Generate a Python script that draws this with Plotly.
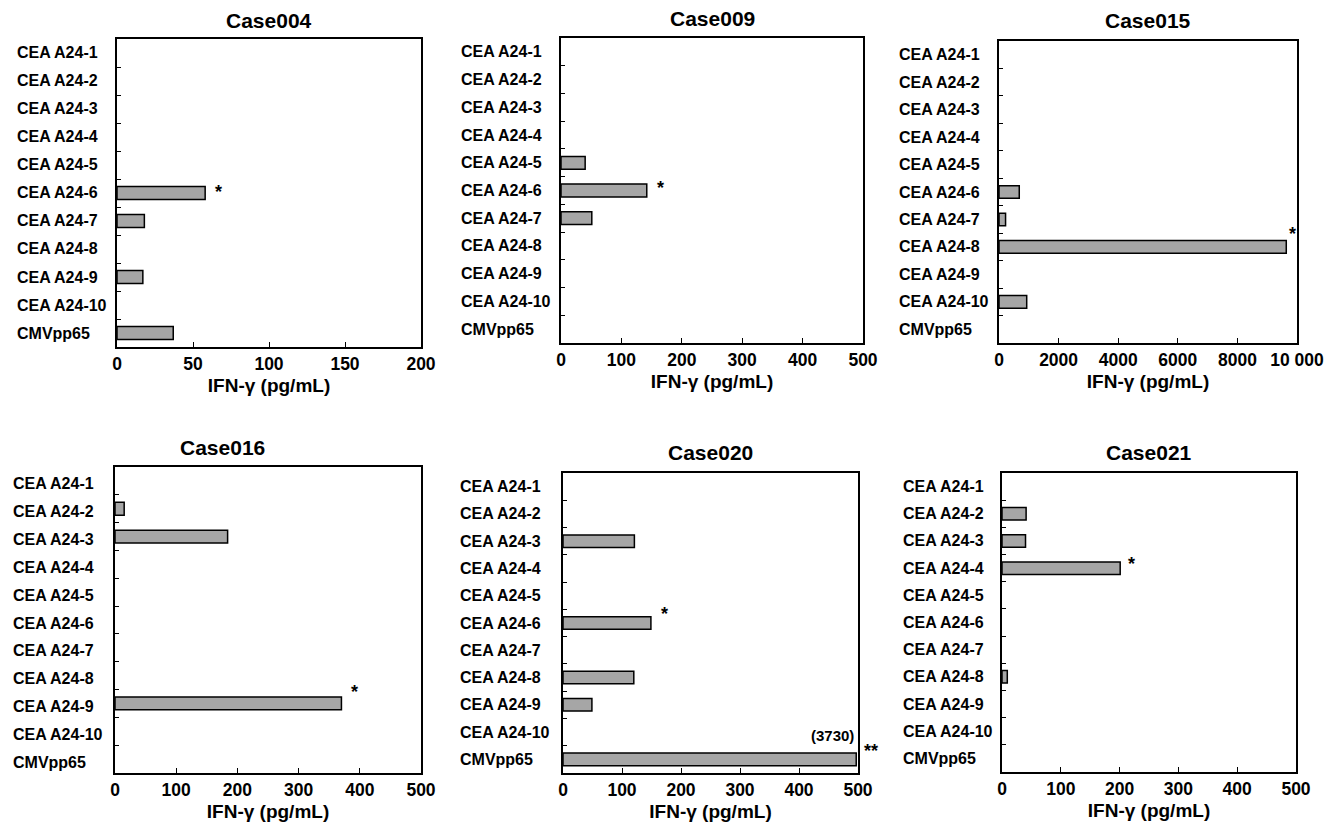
import plotly.graph_objects as go

# ---------------- data ----------------
categories = ["CEA A24-1", "CEA A24-2", "CEA A24-3", "CEA A24-4", "CEA A24-5",
              "CEA A24-6", "CEA A24-7", "CEA A24-8", "CEA A24-9", "CEA A24-10", "CMVpp65"]

case_names = ["Case004", "Case009", "Case015", "Case016", "Case020", "Case021"]

case004 = [0, 0, 0, 0, 0, 58, 18, 0, 17, 0, 37]
case009 = [0, 0, 0, 0, 40, 142, 51, 0, 0, 0, 0]
case015 = [0, 0, 0, 0, 0, 680, 220, 9640, 0, 930, 0]
case016 = [0, 15, 184, 0, 0, 0, 0, 0, 370, 0, 0]
case020 = [0, 0, 121, 0, 0, 149, 0, 120, 49, 0, 3730]
case021 = [0, 41, 40, 201, 0, 0, 0, 9, 0, 0, 0]

x_max = [200, 500, 10000, 500, 500, 500]
x_tickvals = [[0, 50, 100, 150, 200],
              [0, 100, 200, 300, 400, 500],
              [0, 2000, 4000, 6000, 8000, 10000],
              [0, 100, 200, 300, 400, 500],
              [0, 100, 200, 300, 400, 500],
              [0, 100, 200, 300, 400, 500]]
x_ticktext = [["0", "50", "100", "150", "200"],
              ["0", "100", "200", "300", "400", "500"],
              ["0", "2000", "4000", "6000", "8000", "10 000"],
              ["0", "100", "200", "300", "400", "500"],
              ["0", "100", "200", "300", "400", "500"],
              ["0", "100", "200", "300", "400", "500"]]

significance = {
    "Case004": {"CEA A24-6": "*"},
    "Case009": {"CEA A24-6": "*"},
    "Case015": {"CEA A24-8": "*"},
    "Case016": {"CEA A24-9": "*"},
    "Case020": {"CEA A24-6": "*", "CMVpp65": "**"},
    "Case021": {"CEA A24-4": "*"},
}
x_label = "IFN-γ (pg/mL)"

# ---------------- style / layout ----------------
W, H = 1340, 825
# plot frames in pixels: (left, right, top, bottom)
frames = [(117, 421, 39, 347), (561, 863, 38, 343), (999, 1297, 41, 343),
          (115, 421, 467, 773), (563, 858, 473, 773), (1002, 1296, 473, 772)]
label_left = [15, 459, 897, 11, 458, 901]
title_y = [20, 18, 20, 447, 452, 452]
title_dx = [0, 0, 0, -46, 0, 0]
label_dy = [0, 0, 0, -3, 0, 0]
# per-annotation offsets for significance marks (xshift, yshift)
sig_shift = {
    ("Case004", "CEA A24-6"): (8, 1),
    ("Case009", "CEA A24-6"): (8, 2),
    ("Case015", "CEA A24-8"): (1, 13),
    ("Case016", "CEA A24-9"): (8, 11),
    ("Case020", "CEA A24-6"): (8, 9),
    ("Case020", "CMVpp65"): (6, 8),
    ("Case021", "CEA A24-4"): (6, 4),
}
FONT = "Liberation Sans, Arial, Helvetica, sans-serif"
BAR_FILL = "#a6a6a6"

all_values = [case004, case009, case015, case016, case020, case021]

fig = go.Figure()
annotations = []
ncat = len(categories)

for i, (name, vals) in enumerate(zip(case_names, all_values)):
    n = i + 1
    xa = "x" if n == 1 else f"x{n}"
    ya = "y" if n == 1 else f"y{n}"
    l, r, t, b = frames[i]
    cap = x_max[i] * 0.994
    disp = [min(v, cap) if v > 0 else None for v in vals]
    fig.add_trace(go.Bar(
        x=disp, y=categories, orientation="h", xaxis=xa, yaxis=ya,
        width=0.46, customdata=vals,
        marker=dict(color=BAR_FILL, line=dict(color="black", width=1.5)),
        hovertemplate="%{y}: %{customdata}<extra>" + name + "</extra>",
        showlegend=False,
    ))
    xdom = [l / W, r / W]
    ydom = [1 - b / H, 1 - t / H]
    fig.layout[("xaxis" if n == 1 else f"xaxis{n}")] = dict(
        domain=xdom, anchor=ya, range=[0, x_max[i]], automargin=False,
        tickvals=x_tickvals[i], ticktext=x_ticktext[i],
        ticks="inside", ticklen=5, tickwidth=1, tickcolor="black",
        showline=True, mirror=True, linecolor="black", linewidth=2,
        showgrid=False, zeroline=False,
        tickfont=dict(family=FONT, size=17.5, color="black", weight="bold"),
        title=dict(text=x_label, standoff=6,
                   font=dict(family=FONT, size=19, color="black", weight="bold")),
        fixedrange=True,
    )
    fig.layout[("yaxis" if n == 1 else f"yaxis{n}")] = dict(
        domain=ydom, anchor=xa, type="category", automargin=False,
        categoryorder="array", categoryarray=categories,
        autorange=False, range=[ncat - 0.5, -0.5],
        ticks="inside", ticklen=4, tickwidth=1, tickcolor="black",
        tickson="boundaries", showticklabels=False,
        showline=True, mirror=True, linecolor="black", linewidth=2,
        showgrid=False, zeroline=False, fixedrange=True,
    )
    # category labels (left aligned)
    for c in categories:
        annotations.append(dict(
            x=label_left[i] / W, xref="paper", y=c, yref=ya,
            text=c, showarrow=False, xanchor="left", yanchor="middle",
            yshift=label_dy[i],
            font=dict(family=FONT, size=16, color="black", weight="bold"),
        ))
    # title
    annotations.append(dict(
        x=((l + r) / 2 + title_dx[i]) / W, xref="paper",
        y=1 - title_y[i] / H, yref="paper", text=name, showarrow=False,
        xanchor="center", yanchor="middle",
        font=dict(family=FONT, size=21, color="black", weight="bold"),
    ))
    # significance marks
    for c, mark in significance[name].items():
        v = vals[categories.index(c)]
        xs, ys = sig_shift[(name, c)]
        annotations.append(dict(
            x=min(v, cap), xref=xa, y=c, yref=ya, text=mark, showarrow=False,
            xanchor="left", yanchor="middle", xshift=xs, yshift=ys,
            font=dict(family=FONT, size=18, color="black", weight="bold"),
        ))
        if v > cap:
            annotations.append(dict(
                x=min(v, cap), xref=xa, y=c, yref=ya, text=f"({v:g})",
                showarrow=False, xanchor="right", yanchor="middle",
                xshift=0, yshift=24,
                font=dict(family=FONT, size=15, color="black", weight="bold"),
            ))

fig.update_layout(
    template="none",
    width=W, height=H, margin=dict(l=0, r=0, t=0, b=0, autoexpand=False),
    paper_bgcolor="white", plot_bgcolor="white",
    font=dict(family=FONT, color="black"),
    annotations=annotations, bargap=0.5,
)

fig.write_html("out.html", config={"displayModeBar": False},
               post_script="document.body.style.margin='0';document.body.style.overflow='hidden';")
